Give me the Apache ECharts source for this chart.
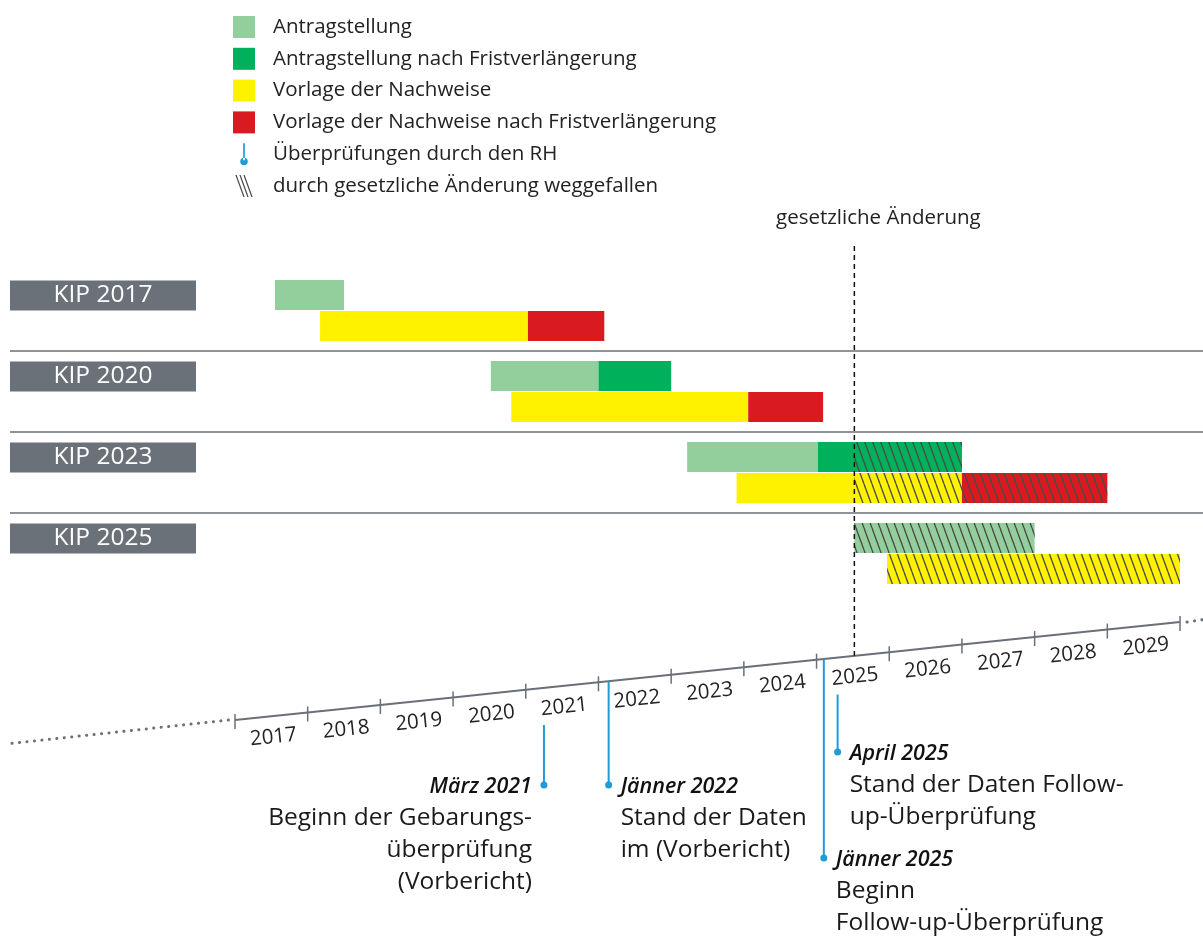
<!DOCTYPE html>
<html lang="de">
<head>
    <meta charset="UTF-8">
    <title>KIP Zeitachse</title>
    <script type="text/javascript" src="https://cdn.jsdelivr.net/npm/echarts@6/dist/echarts.min.js"></script>
    <style>
        html, body { margin: 0; padding: 0; background: #fff; }
        #main { width: 1203px; height: 938px; }
    </style>
</head>
<body>
<div id="main"></div>
<script type="text/javascript">
    // Programme (Zeilen)
    var programmes = ['KIP 2017', 'KIP 2020', 'KIP 2023', 'KIP 2025'];

    // [Zeile, Beginn, Ende] in Jahren
    var antrag = [[0, 2017.55, 2018.5], [1, 2020.52, 2022.0], [2, 2023.22, 2025.02], [3, 2025.52, 2028.0]];
    var antragVerl = [[1, 2022.0, 2023.0], [2, 2025.02, 2027.0]];
    var nachweise = [[0, 2018.17, 2021.03], [1, 2020.8, 2024.06], [2, 2023.9, 2027.0], [3, 2025.97, 2030.0]];
    var nachweiseVerl = [[0, 2021.03, 2022.08], [1, 2024.06, 2025.09], [2, 2027.0, 2029.0]];

    // gesetzliche Änderung
    var changeDate = 2025.52;
    var changeText = 'gesetzliche Änderung';

    // Zeitachse
    var years = [2017, 2018, 2019, 2020, 2021, 2022, 2023, 2024, 2025, 2026, 2027, 2028, 2029, 2030];
    var yearLabels = ['2017', '2018', '2019', '2020', '2021', '2022', '2023', '2024', '2025', '2026', '2027', '2028', '2029'];

    // Überprüfungen durch den RH
    var eventDates = [2021.25, 2022.14, 2025.1, 2025.29];
    var eventTitles = ['März 2021', 'Jänner 2022', 'Jänner 2025', 'April 2025'];
    var eventTexts = [
        'Beginn der Gebarungs-\nüberprüfung\n(Vorbericht)',
        'Stand der Daten\nim (Vorbericht)',
        'Beginn\nFollow-up-Überprüfung',
        'Stand der Daten Follow-\nup-Überprüfung'
    ];
    // Anordnung der Beschriftungen
    var eventSide = ['right', 'left', 'left', 'left'];
    var eventDotY = [785, 785, 858, 752];

    var FONT = 'Open Sans';
    var X_MIN = 2013.905, X_MAX = 2030.316;
    var BAR_H = 30;
    var axisGray = '#6a7077';
    var blue = '#1f9bd7';

    // Schraffur als Muster
    var hatch = document.createElement('canvas');
    hatch.width = 8;
    hatch.height = 22;
    var hc = hatch.getContext('2d');
    hc.strokeStyle = '#4a4a4a';
    hc.lineWidth = 1.3;
    [-8, 0, 8].forEach(function (o) {
        hc.beginPath();
        hc.moveTo(o, 0);
        hc.lineTo(o + 8, 22);
        hc.stroke();
    });

    function barRender(lane, color) {
        return function (params, api) {
            var row = api.value(0);
            var a = api.coord([api.value(1), row]);
            var b = api.coord([api.value(2), row]);
            var y = lane === 0 ? a[1] - BAR_H - 0.5 : a[1] + 0.5;
            return {
                type: 'rect',
                shape: {x: a[0], y: y, width: b[0] - a[0], height: BAR_H},
                style: {fill: color}
            };
        };
    }

    function barSeries(name, data, lane, color) {
        return {
            name: name,
            type: 'custom',
            xAxisIndex: 0,
            yAxisIndex: 0,
            itemStyle: {color: color},
            encode: {x: [1, 2], y: 0},
            renderItem: barRender(lane, color),
            data: data,
            z: 2
        };
    }

    // Teile nach der gesetzlichen Änderung
    var hatchData = [];
    [[antrag, 0], [antragVerl, 0], [nachweise, 1], [nachweiseVerl, 1]].forEach(function (g) {
        g[0].forEach(function (d) {
            if (d[2] > changeDate) {
                hatchData.push([d[0], Math.max(d[1], changeDate), d[2], g[1]]);
            }
        });
    });

    var myChart = echarts.init(document.getElementById('main'));

    var option = {
        animation: false,
        textStyle: {fontFamily: FONT},
        legend: {
            orient: 'vertical',
            left: 233,
            top: 16,
            padding: 0,
            itemWidth: 22,
            itemHeight: 22,
            itemGap: 9.8,
            selectedMode: false,
            textStyle: {fontSize: 20.5, color: '#222', fontFamily: FONT, padding: [0, 0, 0, 13]},
            data: [
                {name: 'Antragstellung', icon: 'rect'},
                {name: 'Antragstellung nach Fristverlängerung', icon: 'rect'},
                {name: 'Vorlage der Nachweise', icon: 'rect'},
                {name: 'Vorlage der Nachweise nach Fristverlängerung', icon: 'rect'},
                {
                    name: 'Überprüfungen durch den RH',
                    icon: 'path://M3,0 h1.6 v16 h-1.6 Z M0.3,17 a3.5,3.5 0 1,0 7,0 a3.5,3.5 0 1,0 -7,0 Z',
                    symbolKeepAspect: true
                },
                {
                    name: 'durch gesetzliche Änderung weggefallen',
                    icon: 'path://M0,0 L1.3,0 L9.3,22 L8,22 Z M4,0 L5.3,0 L13.3,22 L12,22 Z M8,0 L9.3,0 L17.3,22 L16,22 Z',
                    symbolKeepAspect: true
                }
            ]
        },
        grid: [
            {left: 10, right: 0, top: 270, bottom: 344},
            {left: 10, right: 0, top: 622, bottom: 218}
        ],
        xAxis: [
            {type: 'value', gridIndex: 0, min: X_MIN, max: X_MAX, show: false},
            {type: 'value', gridIndex: 1, min: X_MIN, max: X_MAX, show: false}
        ],
        yAxis: [
            {
                type: 'category',
                gridIndex: 0,
                inverse: true,
                data: programmes,
                axisLine: {show: false},
                axisTick: {show: false},
                splitLine: {show: false},
                axisLabel: {
                    inside: true,
                    margin: 0,
                    align: 'left',
                    verticalAlign: 'bottom',
                    formatter: function (v) {
                        return '{b|' + v + '}';
                    },
                    rich: {
                        b: {
                            width: 186,
                            height: 30,
                            lineHeight: 30,
                            align: 'center',
                            backgroundColor: '#6b7178',
                            color: '#fff',
                            fontSize: 24.5,
                            fontFamily: FONT
                        }
                    }
                }
            },
            {type: 'value', gridIndex: 1, min: 2017, max: 2030, show: false}
        ],
        series: [
            // Trennlinien zwischen den Programmen
            {
                type: 'custom',
                xAxisIndex: 0,
                yAxisIndex: 0,
                encode: {y: 0},
                data: programmes.map(function (p, i) { return [i]; }),
                renderItem: function (params, api) {
                    if (api.value(0) === 0) return null;
                    var c = api.coord([X_MIN, api.value(0)]);
                    var y = c[1] - api.size([0, 1])[1] / 2;
                    var cs = params.coordSys;
                    return {
                        type: 'line',
                        shape: {x1: cs.x, y1: y, x2: cs.x + cs.width, y2: y},
                        style: {stroke: '#8e9398', lineWidth: 2}
                    };
                },
                z: 1
            },
            barSeries('Antragstellung', antrag, 0, '#93cf9d'),
            barSeries('Antragstellung nach Fristverlängerung', antragVerl, 0, '#00b05a'),
            barSeries('Vorlage der Nachweise', nachweise, 1, '#fff200'),
            barSeries('Vorlage der Nachweise nach Fristverlängerung', nachweiseVerl, 1, '#d91b21'),
            {
                name: 'durch gesetzliche Änderung weggefallen',
                type: 'custom',
                xAxisIndex: 0,
                yAxisIndex: 0,
                itemStyle: {color: '#4a4a4a'},
                encode: {x: [1, 2], y: 0},
                data: hatchData,
                renderItem: function (params, api) {
                    var row = api.value(0);
                    var a = api.coord([api.value(1), row]);
                    var b = api.coord([api.value(2), row]);
                    var y = api.value(3) === 0 ? a[1] - BAR_H - 0.5 : a[1] + 0.5;
                    return {
                        type: 'rect',
                        shape: {x: a[0], y: y, width: b[0] - a[0], height: BAR_H},
                        style: {fill: {image: hatch, repeat: 'repeat'}}
                    };
                },
                z: 3
            },
            // Zeitachse
            {
                type: 'custom',
                xAxisIndex: 1,
                yAxisIndex: 1,
                encode: {x: 0, y: 0},
                data: years.map(function (y) { return [y]; }),
                renderItem: function (params, api) {
                    var yr = api.value(0);
                    var idx = params.dataIndex;
                    var p = api.coord([yr, yr]);
                    var children = [{
                        type: 'line',
                        shape: {x1: p[0], y1: p[1] - 6, x2: p[0], y2: p[1] + 9},
                        style: {stroke: axisGray, lineWidth: 1.5}
                    }];
                    if (idx < yearLabels.length) {
                        var q = api.coord([years[idx + 1], years[idx + 1]]);
                        var ang = Math.atan2(p[1] - q[1], q[0] - p[0]);
                        children.push({
                            type: 'line',
                            shape: {x1: p[0], y1: p[1], x2: q[0], y2: q[1]},
                            style: {stroke: axisGray, lineWidth: 2}
                        });
                        var mx = (p[0] + q[0]) / 2 + Math.sin(ang) * 21;
                        var my = (p[1] + q[1]) / 2 + Math.cos(ang) * 21;
                        children.push({
                            type: 'text',
                            x: mx,
                            y: my,
                            rotation: ang,
                            style: {
                                text: yearLabels[idx],
                                fill: '#222',
                                fontSize: 20.5,
                                fontFamily: FONT,
                                align: 'center',
                                verticalAlign: 'middle'
                            }
                        });
                    }
                    var dotted = {stroke: axisGray, lineWidth: 3, lineDash: [0.1, 7.4], lineCap: 'round'};
                    if (idx === 0) {
                        var s = api.coord([X_MIN, X_MIN]);
                        children.push({type: 'line', shape: {x1: s[0] + 2, y1: s[1], x2: p[0] - 6, y2: p[1]}, style: dotted});
                    }
                    if (idx === years.length - 1) {
                        var e = api.coord([X_MAX, X_MAX]);
                        children.push({type: 'line', shape: {x1: p[0] + 7, y1: p[1], x2: e[0], y2: e[1]}, style: dotted});
                    }
                    return {type: 'group', children: children};
                },
                z: 2
            },
            // gesetzliche Änderung
            {
                type: 'custom',
                xAxisIndex: 1,
                yAxisIndex: 1,
                encode: {x: 0, y: 0},
                data: [[changeDate]],
                renderItem: function (params, api) {
                    var d = api.value(0);
                    var p = api.coord([d, d]);
                    return {
                        type: 'group',
                        children: [{
                            type: 'line',
                            shape: {x1: p[0], y1: 246, x2: p[0], y2: p[1]},
                            style: {stroke: '#111', lineWidth: 1.5, lineDash: [5, 4]}
                        }, {
                            type: 'text',
                            x: p[0] + 24,
                            y: 218,
                            style: {
                                text: changeText,
                                fill: '#222',
                                fontSize: 20.5,
                                fontFamily: FONT,
                                align: 'center',
                                verticalAlign: 'middle'
                            }
                        }]
                    };
                },
                z: 4
            },
            // Überprüfungen durch den RH
            {
                name: 'Überprüfungen durch den RH',
                type: 'custom',
                xAxisIndex: 1,
                yAxisIndex: 1,
                itemStyle: {color: blue},
                encode: {x: 0, y: 0},
                data: eventDates.map(function (d, i) { return [d, i]; }),
                renderItem: function (params, api) {
                    var d = api.value(0);
                    var i = api.value(1);
                    var p = api.coord([d, d]);
                    var frac = d - Math.floor(d);
                    var y0 = (frac >= 0.2 && frac <= 0.8) ? p[1] + 37 : p[1];
                    var dy = eventDotY[i];
                    var right = eventSide[i] === 'right';
                    var tx = right ? p[0] - 12 : p[0] + 12;
                    return {
                        type: 'group',
                        children: [{
                            type: 'line',
                            shape: {x1: p[0], y1: y0, x2: p[0], y2: dy},
                            style: {stroke: blue, lineWidth: 2}
                        }, {
                            type: 'circle',
                            shape: {cx: p[0], cy: dy, r: 3.5},
                            style: {fill: blue}
                        }, {
                            type: 'text',
                            x: tx,
                            y: dy + 2,
                            style: {
                                text: eventTitles[i],
                                fill: '#111',
                                fontSize: 21.5,
                                fontStyle: 'italic',
                                fontWeight: 600,
                                fontFamily: FONT,
                                align: right ? 'right' : 'left',
                                verticalAlign: 'middle'
                            }
                        }, {
                            type: 'text',
                            x: tx,
                            y: dy + 17,
                            style: {
                                text: eventTexts[i],
                                fill: '#1a1a1a',
                                fontSize: 24.5,
                                lineHeight: 32,
                                fontFamily: FONT,
                                align: right ? 'right' : 'left',
                                verticalAlign: 'top'
                            }
                        }]
                    };
                },
                z: 5
            }
        ]
    };

    myChart.setOption(option);
</script>
</body>
</html>
